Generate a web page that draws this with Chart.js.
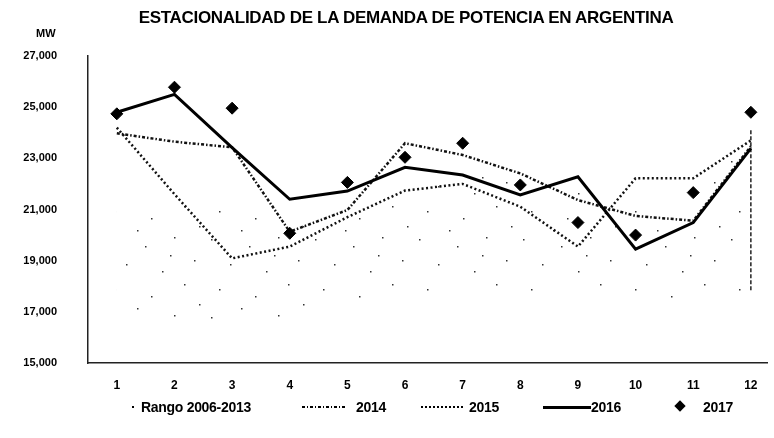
<!DOCTYPE html>
<html>
<head>
<meta charset="utf-8">
<script src="https://cdn.jsdelivr.net/npm/chart.js@4.4.0/dist/chart.umd.min.js"></script>
<style>
html,body{margin:0;padding:0;background:#fff;}
#wrap{position:relative;width:774px;height:438px;overflow:hidden;font-family:"Liberation Sans",Arial,sans-serif;color:#000;}
#c{position:absolute;left:0;top:0;}
#title{position:absolute;left:406px;top:8px;transform:translateX(-50%);white-space:nowrap;font-weight:bold;font-size:17px;letter-spacing:-0.3px;}
#unit{position:absolute;left:36px;top:27px;font-weight:bold;font-size:11px;}
.lg{position:absolute;top:399px;font-weight:bold;font-size:14px;white-space:nowrap;line-height:16px;letter-spacing:-0.3px;}
.smp{position:absolute;}
</style>
</head>
<body>
<div id="wrap">
  <canvas id="c" width="774" height="438"></canvas>
  <div id="title">ESTACIONALIDAD DE LA DEMANDA DE POTENCIA EN ARGENTINA</div>
  <div id="unit">MW</div>
  <div class="smp" style="left:132px;top:406px;width:2px;height:2px;background:#000;"></div>
  <div class="lg" style="left:141px;">Rango 2006-2013</div>
  <div class="smp" style="left:302px;top:406px;width:45px;height:2px;background:repeating-linear-gradient(to right,#000 0 3px,transparent 3px 5px,#000 5px 6px,transparent 6px 8px);"></div>
  <div class="lg" style="left:356px;">2014</div>
  <div class="smp" style="left:421px;top:406px;width:42px;height:2px;background:repeating-linear-gradient(to right,#000 0 2px,transparent 2px 4px);"></div>
  <div class="lg" style="left:469px;">2015</div>
  <div class="smp" style="left:543px;top:405.5px;width:48px;height:3px;background:#000;"></div>
  <div class="lg" style="left:591px;">2016</div>
  <div class="smp" style="left:676px;top:402px;width:8px;height:8px;background:#000;transform:rotate(45deg);"></div>
  <div class="lg" style="left:703px;">2017</div>
</div>
<script>
const months = [1,2,3,4,5,6,7,8,9,10,11,12];
const xLabels = ['1','2','3','4','5','6','7','8','9','10','11','12'];
const yTicks = [15000,17000,19000,21000,23000,25000,27000];

const rangeLow  = [17200,16500,16500,16600,17400,17400,17700,17700,17900,17500,17500,17800];
const rangeHigh = [21600,21300,21500,21000,20600,21500,22600,22000,21700,21000,21500,24100];
const s2014 = [23980,23650,23430,20130,20980,23590,23130,22410,21370,20750,20560,23470];
const s2015 = [24200,21600,19090,19550,20700,21740,22000,21110,19550,22220,22220,23700];
const s2016 = [24800,25500,23420,21400,21720,22650,22350,21570,22280,19450,20490,23390];
const s2017 = [24740,25780,24960,20070,22060,23040,23590,21960,20490,20000,21660,24800];

const toXY = arr => months.map((m,i)=>({x:m,y:arr[i]}));

// sparse, irregular dot pattern for the range area
const tile = document.createElement('canvas');
tile.width = 104; tile.height = 78;
const tc = tile.getContext('2d');
tc.fillStyle = '#333';
[[3,5],[41,12],[70,3],[22,30],[58,37],[90,26],[11,55],[47,62],[80,50],[33,74],[95,70],[66,21]]
  .forEach(p=>tc.fillRect(p[0],p[1],1.5,1.5));
const ctxMain = document.getElementById('c').getContext('2d');
const dotPattern = ctxMain.createPattern(tile,'repeat');

const edgePlugin = {
  id:'edge',
  beforeDatasetsDraw(chart){
    const xs = chart.scales.x, ys = chart.scales.y, ctx = chart.ctx;
    const i = months.length-1;
    const x = xs.getPixelForValue(months[i]);
    ctx.save();
    ctx.setLineDash([4,2]);
    ctx.lineWidth = 1.5;
    ctx.strokeStyle = '#222';
    ctx.beginPath();
    ctx.moveTo(x, ys.getPixelForValue(rangeHigh[i]));
    ctx.lineTo(x, ys.getPixelForValue(rangeLow[i]));
    ctx.stroke();
    ctx.restore();
  }
};

const yFont = {family:'"Liberation Sans", Arial, sans-serif', size:11, weight:'bold'};
const xFont = {family:'"Liberation Sans", Arial, sans-serif', size:12, weight:'bold'};

new Chart(ctxMain, {
  type:'line',
  data:{
    datasets:[
      {label:'low', data:toXY(rangeLow), borderWidth:0, pointRadius:0, fill:false, borderColor:'rgba(0,0,0,0)', order:5},
      {label:'Rango 2006-2013', data:toXY(rangeHigh), borderWidth:0, pointRadius:0, fill:'-1', backgroundColor:dotPattern, borderColor:'rgba(0,0,0,0)', order:4},
      {label:'2014', data:toXY(s2014), borderColor:'#111', borderWidth:2.5, borderDash:[3,2,1.5,2], pointRadius:0, fill:false, tension:0, order:3},
      {label:'2015', data:toXY(s2015), borderColor:'#111', borderWidth:2.5, borderDash:[2,2.5], pointRadius:0, fill:false, tension:0, order:2},
      {label:'2016', data:toXY(s2016), borderColor:'#000', borderWidth:3, pointRadius:0, fill:false, tension:0, order:1},
      {label:'2017', data:toXY(s2017), showLine:false, pointStyle:'rectRot', pointRadius:6, pointBackgroundColor:'#000', pointBorderColor:'#000', order:0}
    ]
  },
  options:{
    responsive:false,
    animation:false,
    layout:{padding:{top:56,left:0,right:0,bottom:45}},
    plugins:{legend:{display:false}, tooltip:{enabled:false}, title:{display:false}},
    scales:{
      x:{
        type:'linear', min:0.5, max:12.28,
        grid:{display:false},
        border:{display:true, color:'#222', width:1.5},
        afterBuildTicks(s){ s.ticks = months.map(v=>({value:v})); },
        afterFit(s){ s.height = 30; },
        ticks:{color:'#000', font:xFont, padding:7, maxRotation:0, autoSkip:false,
          callback(v){ const k = months.indexOf(v); return k>=0 ? xLabels[k] : ''; }}
      },
      y:{
        min:15000, max:27000,
        grid:{display:false},
        border:{display:true, color:'#222', width:1.5},
        afterBuildTicks(s){ s.ticks = yTicks.map(v=>({value:v})); },
        afterFit(s){ s.width = 88; },
        ticks:{color:'#000', font:yFont, padding:23,
          callback(v){ return v.toLocaleString('en-US'); }}
      }
    }
  },
  plugins:[edgePlugin]
});
</script>
</body>
</html>
